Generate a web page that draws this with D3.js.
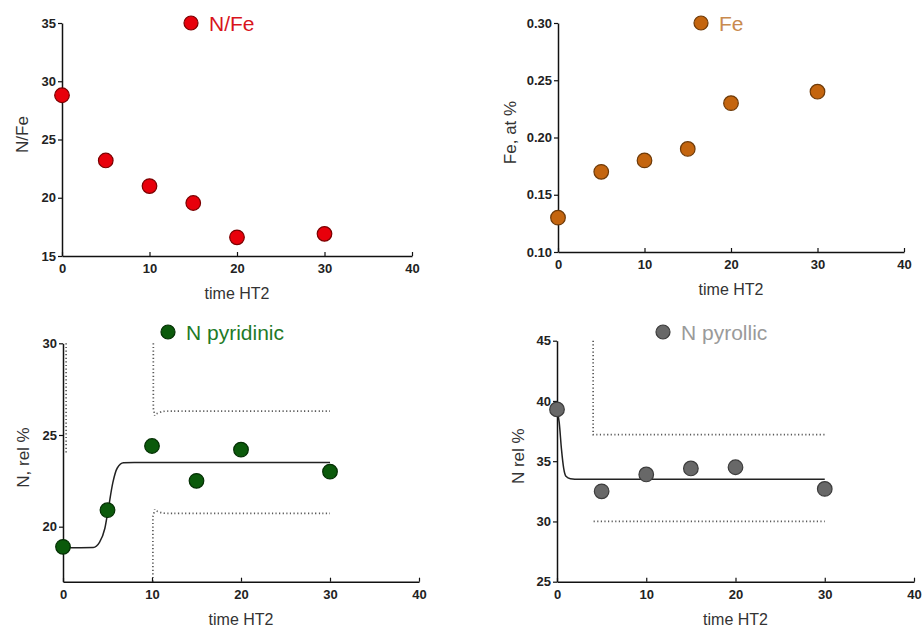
<!DOCTYPE html>
<html>
<head>
<meta charset="utf-8">
<script src="https://cdn.jsdelivr.net/npm/d3@7/dist/d3.min.js"></script>
<style>
    body { margin: 0; background: #fff; }
    text { font-family: "Liberation Sans", Arial, sans-serif; }
    .tick text { font-weight: bold; font-size: 13px; fill: #222; }
</style>
</head>
<body>
<div id="chart"></div>
<script>
// time of HT2 treatment
var times = [0, 5, 10, 15, 20, 30];
var xTicks = [0, 10, 20, 30, 40];

// measured series
var nFe = [28.8, 23.2, 21.0, 19.55, 16.6, 16.9];
var feAt = [0.13, 0.17, 0.18, 0.19, 0.23, 0.24];
var nPyridinic = [18.9, 20.9, 24.4, 22.5, 24.2, 23.0];
var nPyrollic = [39.3, 32.5, 33.9, 34.4, 34.5, 32.7];

// fitted curves and confidence bands
var pyridinicFit = [[0, 18.85], [3.4, 18.87], [4.1, 19.15], [4.7, 19.9], [5.1, 21.0], [5.6, 22.4], [6.1, 23.2], [6.8, 23.48], [8, 23.5], [30, 23.5]];
var pyridinicBands = [
    [[0.35, 30], [0.35, 24.0]],
    [[10.15, 30], [10.15, 26.5], [10.3, 26.05], [10.8, 26.22], [11.5, 26.3], [30, 26.3]],
    [[10.1, 17], [10.1, 20.5], [10.3, 20.95], [10.8, 20.8], [11.5, 20.73], [30, 20.73]]
];
var pyrollicFit = [[0, 39.3], [0.25, 38.2], [0.5, 36.0], [0.75, 34.4], [1.0, 33.75], [1.5, 33.55], [2.5, 33.5], [30, 33.5]];
var pyrollicBands = [
    [[4.05, 45], [4.05, 37.2], [30, 37.2]],
    [[4.1, 30.0], [30, 30.0]]
];

var width = 922, height = 628;

var svg = d3.select("#chart").append("svg")
    .attr("width", width)
    .attr("height", height);

var panels = [
    {values: nFe, name: "N/Fe", ylabel: "N/Fe", yDomain: [15, 35], yTicks: [15, 20, 25, 30, 35], fmt: d3.format("d"),
        x0: 62, x1: 412, yTop: 23, yBot: 256, fill: "#e8000b", stroke: "#7a0000", textColor: "#d8141c",
        legX: 191, legY: 23, ylabX: 22},
    {values: feAt, name: "Fe", ylabel: "Fe, at %", yDomain: [0.10, 0.30], yTicks: [0.10, 0.15, 0.20, 0.25, 0.30], fmt: d3.format(".2f"),
        x0: 558, x1: 904, yTop: 23, yBot: 252, fill: "#c4650f", stroke: "#6e3a08", textColor: "#c98a4e",
        legX: 701, legY: 23, ylabX: 510},
    {values: nPyridinic, name: "N pyridinic", ylabel: "N, rel %", yDomain: [17, 30], yTicks: [20, 25, 30], fmt: d3.format("d"),
        x0: 63, x1: 419, yTop: 343.3, yBot: 581.7, fill: "#0b5a0b", stroke: "#043004", textColor: "#1e7a28",
        legX: 168, legY: 332, ylabX: 23, fit: pyridinicFit, bands: pyridinicBands},
    {values: nPyrollic, name: "N pyrollic", ylabel: "N rel %", yDomain: [25, 45], yTicks: [25, 30, 35, 40, 45], fmt: d3.format("d"),
        x0: 557, x1: 914, yTop: 340.7, yBot: 581.7, fill: "#686868", stroke: "#3c3c3c", textColor: "#9a9a9a",
        legX: 663, legY: 332, ylabX: 518, fit: pyrollicFit, bands: pyrollicBands}
];

panels.forEach(drawPanel);

function drawPanel(p) {
    var x = d3.scaleLinear().domain([0, 40]).range([p.x0, p.x1]);
    var y = d3.scaleLinear().domain(p.yDomain).range([p.yBot, p.yTop]);
    var g = svg.append("g");

    var line = d3.line()
        .x(function (d) { return x(d[0]); })
        .y(function (d) { return y(d[1]); });

    //confidence bands
    if (p.bands) {
        g.selectAll(".band")
            .data(p.bands)
            .enter()
            .append("path")
            .attr("class", "band")
            .attr("d", d3.line().curve(d3.curveMonotoneY)
                .x(function (d) { return x(d[0]); })
                .y(function (d) { return y(d[1]); }))
            .attr("fill", "none")
            .attr("stroke", "#5a5a5a")
            .attr("stroke-width", 1.7)
            .attr("stroke-dasharray", "1.2,2.4");
    }

    //fitted curve
    if (p.fit) {
        g.append("path")
            .datum(p.fit)
            .attr("d", line.curve(d3.curveMonotoneX))
            .attr("fill", "none")
            .attr("stroke", "#222")
            .attr("stroke-width", 1.5);
    }

    //axes
    var xAxis = g.append("g")
        .attr("transform", "translate(0," + p.yBot + ")")
        .call(d3.axisBottom(x).tickValues(xTicks).tickSizeInner(-4).tickSizeOuter(0).tickPadding(8));

    var yAxis = g.append("g")
        .attr("transform", "translate(" + p.x0 + ",0)")
        .call(d3.axisLeft(y).tickValues(p.yTicks).tickFormat(p.fmt).tickSizeInner(4).tickSizeOuter(0).tickPadding(2));

    [xAxis, yAxis].forEach(function (a) {
        a.select(".domain").attr("stroke", "#111").attr("stroke-width", 1.5);
        a.selectAll(".tick line").attr("stroke", "#111").attr("stroke-width", 1.2);
        a.selectAll(".tick text").style("font-family", "'Liberation Sans', Arial, sans-serif");
    });

    //points
    g.selectAll(".dot")
        .data(p.values)
        .enter()
        .append("circle")
        .attr("class", "dot")
        .attr("cx", function (d, i) { return x(times[i]); })
        .attr("cy", function (d) { return y(d); })
        .attr("r", 7.3)
        .attr("fill", p.fill)
        .attr("stroke", p.stroke)
        .attr("stroke-width", 1.2);

    //axis titles
    g.append("text")
        .attr("x", (x(0) + x(40)) / 2)
        .attr("y", p.yBot + 43)
        .attr("text-anchor", "middle")
        .style("font-size", "16px")
        .style("fill", "#333")
        .text("time HT2");

    g.append("text")
        .attr("transform", "translate(" + p.ylabX + "," + ((p.yTop + p.yBot) / 2 - 5) + ") rotate(-90)")
        .attr("text-anchor", "middle")
        .attr("dy", "0.35em")
        .style("font-size", "17px")
        .style("fill", "#333")
        .text(p.ylabel);

    //legend
    g.append("circle")
        .attr("cx", p.legX)
        .attr("cy", p.legY)
        .attr("r", 7)
        .attr("fill", p.fill)
        .attr("stroke", p.stroke)
        .attr("stroke-width", 1.2);

    g.append("text")
        .attr("x", p.legX + 18)
        .attr("y", p.legY + 7.5)
        .style("font-size", "21px")
        .style("fill", p.textColor)
        .text(p.name);
}
</script>
</body>
</html>
